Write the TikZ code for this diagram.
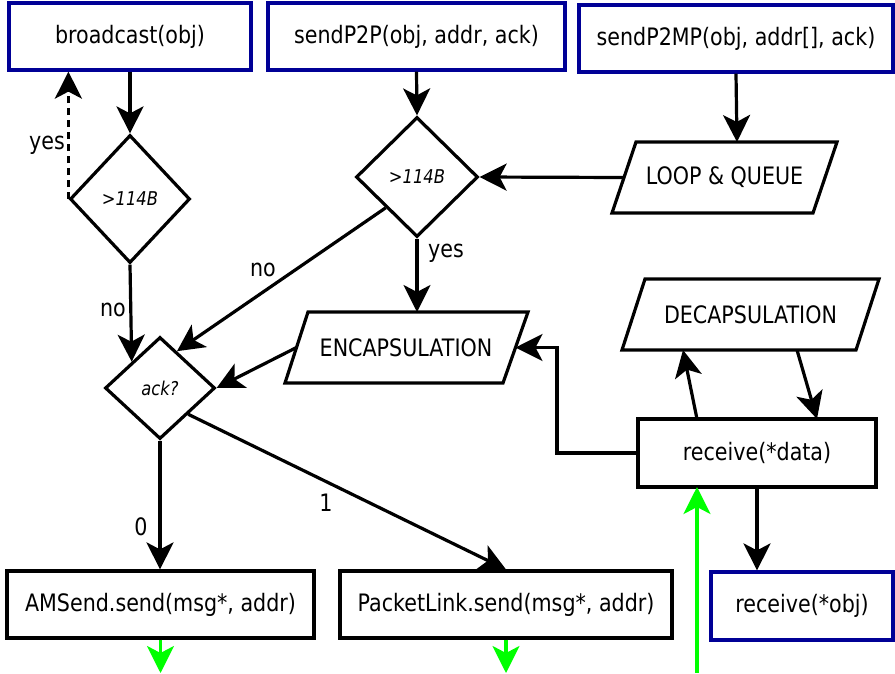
\documentclass[tikz,border=0pt]{standalone}
\usepackage{fontspec}
\setmainfont{DejaVu Sans}[FakeStretch=0.86]
\usetikzlibrary{arrows.meta,shapes.geometric,calc}
\definecolor{navyb}{RGB}{0,0,150}
\definecolor{limeg}{RGB}{0,255,0}
\begin{document}
\begin{tikzpicture}[x=1pt,y=-1pt,line width=3.2pt,
  every node/.style={font=\fontsize{24}{28}\selectfont},
  bluebox/.style={draw=navyb,rectangle,minimum height=67,inner sep=0pt},
  blackbox/.style={draw=black,rectangle,minimum height=67,inner sep=0pt},
  decision/.style={draw=black,diamond,inner sep=0pt,font=\fontsize{19}{21}\selectfont\itshape},
  para/.style={draw=black,line join=miter},
  arr/.style={-{Stealth[length=27pt,width=27pt,inset=7pt]}},
  garr/.style={draw=limeg,-{Stealth[length=27pt,width=27pt,inset=7pt]}},
  lbl/.style={inner sep=0pt}]
\useasboundingbox (0,0) rectangle (895,673);
% boxes
\node[bluebox,minimum width=242] (bc) at (130,36.5) {broadcast(obj)};
\node[bluebox,minimum width=297] (p2p) at (416.5,36.5) {sendP2P(obj, addr, ack)};
\node[bluebox,minimum width=314] (p2mp) at (736,38.5) {sendP2MP(obj, addr[], ack)};
\node[bluebox,minimum width=182,minimum height=68] (robj) at (802,606) {receive(*obj)};
\node[blackbox,minimum width=307] (ams) at (160.5,604.5) {AMSend.send(msg*, addr)};
\node[blackbox,minimum width=332] (pl) at (506,604.5) {PacketLink.send(msg*, addr)};
\node[blackbox,minimum width=238,minimum height=68] (rd) at (757,453) {receive(*data)};
% diamonds
\node[decision,minimum width=120,minimum height=128] (d1) at (130,199) {>114B};
\node[decision,minimum width=122,minimum height=120] (d2) at (417,177) {>114B};
\node[decision,minimum width=110,minimum height=102] (ack) at (160,388) {ack?};
% parallelograms
\draw[para] (612,213) -- (636,142) -- (837,142) -- (813,213) -- cycle;
\node (loop) at (724.5,177.5) {LOOP \& QUEUE};
\coordinate (loopL) at (624,177.5);
\coordinate (loopT) at (737,142);
\draw[para] (285,383) -- (308,312) -- (528,312) -- (503,383) -- cycle;
\node (enc) at (406,348) {ENCAPSULATION};
\coordinate (encL) at (296.5,347.5);
\coordinate (encR) at (515.5,347.5);
\coordinate (encT) at (417,312);
\draw[para] (622,350) -- (645,279) -- (879,279) -- (856,350) -- cycle;
\node (dec) at (750.5,314.5) {DECAPSULATION};
\coordinate (decA) at (683,350);
\coordinate (decB) at (797,350);
\coordinate (rdA) at (697,419);
\coordinate (rdB) at (817,419);
% connectors
\draw[arr] (bc.south) -- (d1.north);
\draw[arr,dashed,dash pattern=on 7pt off 5pt] (d1.west) -- (d1.west |- bc.south);
\draw[arr] (d1.south) -- ($(ack.west)!0.5!(ack.north)$);
\draw[arr] ($(d2.west)!0.5!(d2.south)$) -- ($(ack.north)!0.3!(ack.east)$);
\draw[arr] (p2p.south) -- (d2.north);
\draw[arr] (d2.south) -- (encT);
\draw[arr] (loopL) -- (d2.east);
\draw[arr] (p2mp.south) -- (loopT);
\draw[arr] (encL) -- (ack.east);
\draw[arr] (ack.south) -- (ams.north -| ack.south);
\draw[arr] ($(ack.east)!0.5!(ack.south)$) -- (pl.north);
\draw[arr] (rd.west) -| (557,347.5) -- (encR);
\draw[arr] (rdA) -- (decA);
\draw[arr] (decB) -- (rdB);
\draw[arr] (rd.south) -- (rd.south |- robj.north);
% green
\coordinate (gin) at (697,673);
\coordinate (amsout) at (160.5,673);
\coordinate (plout) at (506,673);
\draw[garr] (gin) -- (697,487);
\draw[garr] (ams.south) -- (amsout);
\draw[garr] (pl.south) -- (plout);
% labels
\node[lbl] (l1) at (47,145) {yes};
\node[lbl] (l2) at (113,310) {no};
\node[lbl] (l3) at (263,270) {no};
\node[lbl] (l4) at (446,253) {yes};
\node[lbl] (l5) at (141,527) {0};
\node[lbl] (l6) at (326,503) {1};
\end{tikzpicture}
\end{document}
